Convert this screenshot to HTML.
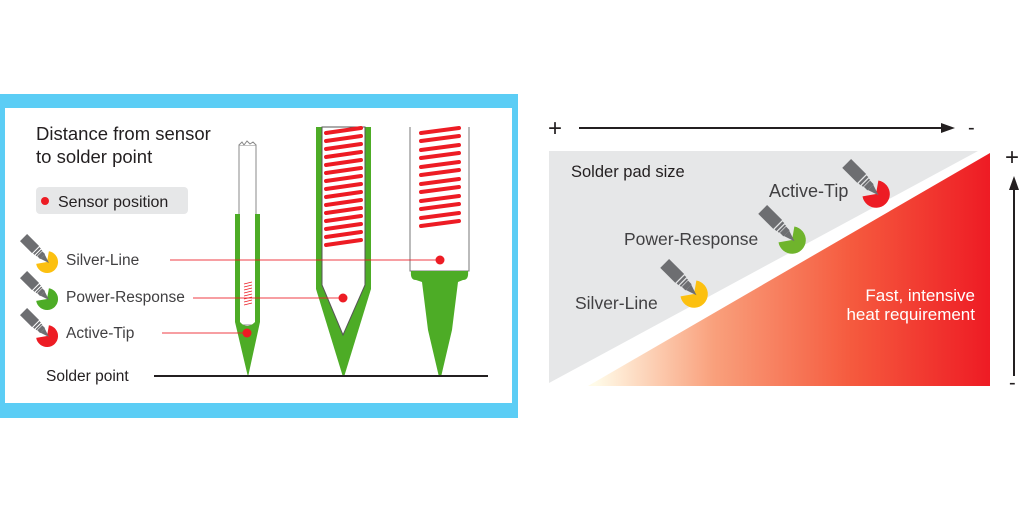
<!DOCTYPE html>
<html><head><meta charset="utf-8"><style>
html,body{margin:0;padding:0;background:#fff;}
svg{display:block;font-family:"Liberation Sans",sans-serif;}
</style></head><body>
<svg width="1024" height="512" viewBox="0 0 1024 512" xmlns="http://www.w3.org/2000/svg">
<defs>
<linearGradient id="rg" x1="595" y1="0" x2="990" y2="0" gradientUnits="userSpaceOnUse">
<stop offset="0" stop-color="#fffbe8"/>
<stop offset="0.3" stop-color="#f9a07c"/>
<stop offset="0.65" stop-color="#f55a3e"/>
<stop offset="1" stop-color="#ee1b24"/>
</linearGradient>
<g id="pencil">
<g transform="rotate(45)">
<polygon points="0,0 -9,-3 -9,3" fill="#6d6e71"/>
<rect x="-13" y="-3.5" width="4" height="7" fill="#6d6e71"/>
<rect x="-15" y="-4" width="1.5" height="8" fill="#6d6e71"/>
<rect x="-18" y="-4.5" width="2" height="9" fill="#6d6e71"/>
<rect x="-36" y="-5" width="17" height="10" fill="#6d6e71"/>
</g>
</g>
<path id="pie" d="M0,0 L1.9,-10.8 A11,11 0 1 1 -10.8,1.9 Z"/>
</defs>

<!-- LEFT PANEL -->
<rect x="0" y="94" width="518" height="324" fill="#5bcdf5"/>
<rect x="5" y="108" width="507" height="295" fill="#fff"/>
<text x="36" y="140" font-size="18.5" fill="#231f20">Distance from sensor</text>
<text x="36" y="163" font-size="18.5" fill="#231f20">to solder point</text>
<rect x="36" y="187" width="152" height="27" rx="4" fill="#e6e7e8"/>
<circle cx="45" cy="201" r="4" fill="#ed1c24"/>
<text x="58" y="207" font-size="16" fill="#231f20">Sensor position</text>

<!-- left icons -->
<g transform="translate(47,262)"><use href="#pie" fill="#fcc010"/><use href="#pencil" transform="translate(2,1)"/></g>
<g transform="translate(47,299)"><use href="#pie" fill="#4dac26"/><use href="#pencil" transform="translate(2,1)"/></g>
<g transform="translate(47,336)"><use href="#pie" fill="#ed1c24"/><use href="#pencil" transform="translate(2,1)"/></g>
<text x="66" y="265" font-size="15.5" fill="#414042">Silver-Line</text>
<text x="66" y="302" font-size="15.5" fill="#414042">Power-Response</text>
<text x="66" y="338" font-size="15.5" fill="#414042">Active-Tip</text>
<text x="46" y="381" font-size="15.5" fill="#231f20">Solder point</text>

<!-- tip 1 -->
<rect x="239" y="145" width="17" height="180" fill="#fff" stroke="#888" stroke-width="1"/>
<path d="M239,145 l3,-3 l2,3 l3,-4 l3,3 l3,-2 l3,3" fill="#fff" stroke="#888" stroke-width="1"/>
<path d="M235,214 L240,214 L240,322 Q247,330 255,322 L255,214 L260,214 L260,322 L248,377 L235,322 Z" fill="#4dac26"/>
<g stroke="#ed1c24" stroke-width="0.8">
<line x1="244" y1="284" x2="252" y2="282"/><line x1="244" y1="287" x2="252" y2="285"/><line x1="244" y1="290" x2="252" y2="288"/><line x1="244" y1="293" x2="252" y2="291"/><line x1="244" y1="296" x2="252" y2="294"/><line x1="244" y1="299" x2="252" y2="297"/><line x1="244" y1="302" x2="252" y2="300"/><line x1="244" y1="305" x2="252" y2="303"/>
</g>

<!-- tip 2 -->
<path d="M316,127 L371,127 L371,289 L344,377 L343,377 L316,289 Z" fill="#4dac26"/>
<path d="M322,127 L365,127 L365,285 L343,335 L322,285 Z" fill="#fff" stroke="#555" stroke-width="1"/>
<g stroke="#ed1c24" stroke-width="4" stroke-linecap="round">
<line x1="326" y1="133" x2="361" y2="128"/><line x1="326" y1="141" x2="361" y2="136"/><line x1="326" y1="149" x2="361" y2="144"/><line x1="326" y1="157" x2="361" y2="152"/><line x1="326" y1="165" x2="361" y2="160"/><line x1="326" y1="173" x2="361" y2="168"/><line x1="326" y1="181" x2="361" y2="176"/><line x1="326" y1="189" x2="361" y2="184"/><line x1="326" y1="197" x2="361" y2="192"/><line x1="326" y1="205" x2="361" y2="200"/><line x1="326" y1="213" x2="361" y2="208"/><line x1="326" y1="221" x2="361" y2="216"/><line x1="326" y1="229" x2="361" y2="224"/><line x1="326" y1="237" x2="361" y2="232"/><line x1="326" y1="245" x2="361" y2="240"/>
</g>

<!-- tip 3 -->
<rect x="410" y="120" width="59" height="151" fill="#fff" stroke="#777" stroke-width="1"/>
<rect x="409" y="116" width="62" height="11" fill="#fff"/>
<path d="M411,271 L468,271 Q469,280 463,280 L458,282 L452,330 L441,377 L439,377 L428,330 L422,282 L416,280 Q410,280 411,271 Z" fill="#4dac26"/>
<g stroke="#ed1c24" stroke-width="4" stroke-linecap="round">
<line x1="421" y1="133" x2="459" y2="128"/><line x1="421" y1="141" x2="459" y2="136"/><line x1="421" y1="150" x2="459" y2="145"/><line x1="421" y1="158" x2="459" y2="153"/><line x1="421" y1="167" x2="459" y2="162"/><line x1="421" y1="175" x2="459" y2="170"/><line x1="421" y1="184" x2="459" y2="179"/><line x1="421" y1="192" x2="459" y2="187"/><line x1="421" y1="201" x2="459" y2="196"/><line x1="421" y1="209" x2="459" y2="204"/><line x1="421" y1="218" x2="459" y2="213"/><line x1="421" y1="226" x2="459" y2="221"/>
</g>

<!-- connectors -->
<g stroke="#ed1c24" stroke-width="1" opacity="0.85">
<line x1="170" y1="260" x2="440" y2="260"/>
<line x1="193" y1="298" x2="343" y2="298"/>
<line x1="162" y1="333" x2="247" y2="333"/>
</g>
<circle cx="440" cy="260" r="4.5" fill="#ed1c24"/>
<circle cx="343" cy="298" r="4.5" fill="#ed1c24"/>
<circle cx="247" cy="333" r="4.5" fill="#ed1c24"/>
<line x1="154" y1="376" x2="488" y2="376" stroke="#231f20" stroke-width="2"/>

<!-- RIGHT PANEL -->
<text x="548" y="136" font-size="24" fill="#231f20">+</text>
<line x1="579" y1="128" x2="945" y2="128" stroke="#231f20" stroke-width="2"/>
<polygon points="955,128 941,123 941,133" fill="#231f20"/>
<text x="968" y="134" font-size="20" fill="#231f20">-</text>

<polygon points="549,151 978,151 549,383" fill="#e6e7e8"/>
<polygon points="990,153 990,386 588,386" fill="url(#rg)"/>

<text x="571" y="177" font-size="16.5" fill="#231f20">Solder pad size</text>
<text x="769" y="197" font-size="18" fill="#414042">Active-Tip</text>
<text x="624" y="245" font-size="17.5" fill="#414042">Power-Response</text>
<text x="575" y="309" font-size="17.5" fill="#414042">Silver-Line</text>
<text x="975" y="301" font-size="17" fill="#fff" text-anchor="end">Fast, intensive</text>
<text x="975" y="320" font-size="17" fill="#fff" text-anchor="end">heat requirement</text>

<g transform="translate(876,194) scale(1.25)"><use href="#pie" fill="#ed1c24"/><use href="#pencil" transform="translate(2,1)"/></g>
<g transform="translate(792,240) scale(1.25)"><use href="#pie" fill="#6fb42c"/><use href="#pencil" transform="translate(2,1)"/></g>
<g transform="translate(694,294) scale(1.25)"><use href="#pie" fill="#fcc010"/><use href="#pencil" transform="translate(2,1)"/></g>

<text x="1005" y="165" font-size="24" fill="#231f20">+</text>
<line x1="1014" y1="186" x2="1014" y2="376" stroke="#231f20" stroke-width="2"/>
<polygon points="1014,176 1009,190 1019,190" fill="#231f20"/>
<text x="1009" y="389" font-size="20" fill="#231f20">-</text>
</svg>
</body></html>
